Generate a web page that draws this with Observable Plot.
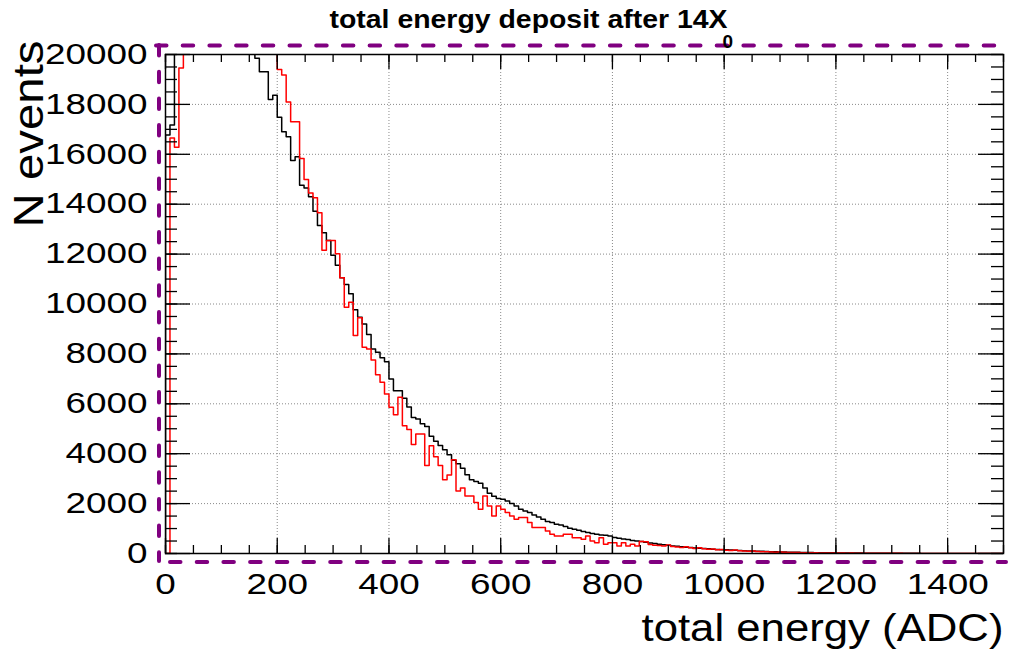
<!DOCTYPE html>
<html><head><meta charset="utf-8">
<script src="https://cdn.jsdelivr.net/npm/d3@7"></script>
<script src="https://cdn.jsdelivr.net/npm/@observablehq/plot@0.6"></script>
<style>body{margin:0;background:#fff;}</style>
</head><body><div id="chart"></div>
<script>
// Histogram bin width (ADC units); bins start at 0
const binWidth = 8;

// black histogram counts per bin (values above 20000 are off-scale / clipped)
const blackCounts = [
  16770, 17170, 21500, 23000, 24500, 25500, 26000, 26500, 26500, 26000,
  25500, 25000, 24200, 23500, 22800, 22200, 21600, 21000, 20600, 20200,
  19850, 19310, 19310, 18200, 18370, 17480, 16900, 16700, 15750, 15900,
  14760, 14650, 14300, 13715, 13150, 12860, 12550, 11950, 11550, 11050,
  10780, 10410, 9770, 9470, 9200, 8775, 8200, 8065, 7850, 7690,
  6995, 6526, 6526, 6220, 5870, 5455, 5388, 5200, 5094, 4700,
  4500, 4330, 4160, 3960, 3735, 3595, 3415, 3160, 2955, 2890,
  2820, 2630, 2410, 2290, 2200, 2175, 2108, 2000, 1908, 1774,
  1707, 1640, 1546, 1466, 1372, 1279, 1239, 1171, 1145, 1078,
  1011, 971, 931, 877, 837, 797, 771, 744, 730, 703,
  640, 612, 585, 560, 520, 505, 480, 455, 420, 400,
  370, 350, 330, 305, 290, 270, 250, 240, 225, 210,
  200, 190, 175, 165, 155, 150, 140, 130, 120, 115,
  105, 100, 95, 90, 80, 75, 68, 62, 58, 55,
  50, 48, 45, 40, 38, 35, 33, 30, 28, 26,
  24, 22, 20, 19, 18, 17, 15, 14, 13, 12,
  11, 10, 10, 9, 8, 8, 7, 6, 6, 5,
  5, 5, 4, 4, 4, 3, 3, 3, 3, 2,
  2, 2, 2, 2, 1, 1, 1, 1
];

// red histogram counts per bin
const redCounts = [
  0, 16650, 16280, 19460,
  21000, 22500, 23800, 24800, 25500, 26000, 26300, 26400, 26200, 25800,
  25300, 24700, 24000, 23400, 22800, 22200, 21700, 21200, 20800, 20400, 20200,
  19400, 19180, 18100, 17300, 17300,
  15830, 14990, 14450, 14260, 13660, 12150, 12550, 12550, 12015, 11050,
  9870, 10070, 8735, 9445, 8265, 8200, 7759, 7169, 6860, 6392,
  5857, 5560, 6258, 5120, 4970, 4370, 4786, 4786, 3530, 4317,
  3880, 3530, 2960, 3150, 3760, 2510, 2630, 2309, 2309, 2041,
  1774, 2309, 1908, 1506, 1908, 1774, 1640, 1506, 1372, 1439,
  1439, 1239, 1038, 1038, 1038, 904, 771, 703, 703, 771,
  771, 636, 636, 569, 703, 502, 435, 636, 368, 435,
  435, 301, 435, 301, 370, 300, 480, 470, 360, 330,
  320, 300, 340, 280, 260, 240, 270, 230, 200, 230,
  190, 170, 180, 150, 160, 130, 120, 140, 110, 100,
  90, 100, 80, 70, 75, 60, 55, 60, 50, 45,
  40, 45, 35, 30, 32, 28, 25, 22, 20, 22,
  18, 16, 15, 17, 14, 12, 11, 13, 10, 9,
  8, 9, 7, 6, 7, 5, 5, 4, 5, 4,
  3, 3, 4, 3, 2, 2, 3, 2, 2, 1,
  1, 2, 1, 1, 1, 0, 1, 0
];

const xTickLabels = [0, 200, 400, 600, 800, 1000, 1200, 1400];
const yTickLabels = [0, 2000, 4000, 6000, 8000, 10000, 12000, 14000, 16000, 18000, 20000];
const xGrid = [200, 400, 600, 800, 1000, 1200, 1400];
const yGrid = [2000, 4000, 6000, 8000, 10000, 12000, 14000, 16000, 18000];
const xMinor = d3.range(0, 1501, 50);
const yMinor = d3.range(0, 20001, 500);

const titleText = "total energy deposit after 14X";
const titleSub = "0";
const xTitle = "total energy (ADC)";
const yTitle = "N events";

function histRows(counts) {
  const rows = [{x: 0, y: 0}];
  counts.forEach((c, i) => rows.push({x: i * binWidth, y: c}));
  const end = counts.length * binWidth;
  rows.push({x: end, y: counts[counts.length - 1]});
  rows.push({x: end, y: 0});
  return rows;
}
const blackRows = histRows(blackCounts);
const redRows = histRows(redCounts);

const W = 1012, H = 650, mL = 165, mR = 9, mT = 54, mB = 97;
const fw = W - mL - mR, fh = H - mT - mB;
const font = "'Liberation Sans', Arial, Helvetica, sans-serif";
const purple = "#800080";
const dash = {stroke: purple, strokeWidth: 4, strokeDasharray: "10.5,16.2", strokeLinecap: "round"};
const grid = {stroke: "#8a8a8a", strokeWidth: 1, strokeDasharray: "1,2"};
const tick = {stroke: "black", strokeWidth: 1.3};

const svg = Plot.plot({
  width: W, height: H,
  marginLeft: mL, marginRight: mR, marginTop: mT, marginBottom: mB,
  x: {domain: [0, 1500], axis: null},
  y: {domain: [0, 20000], axis: null},
  style: {fontFamily: font, background: "white", color: "black"},
  marks: [
    Plot.ruleX(xGrid, {...grid}),
    Plot.ruleY(yGrid, {...grid}),
    Plot.lineY(blackRows, {x: "x", y: "y", curve: "step-after", stroke: "black", strokeWidth: 1.5, clip: true}),
    Plot.lineY(redRows, {x: "x", y: "y", curve: "step-after", stroke: "#ff0000", strokeWidth: 1.5, clip: true}),
    // inside ticks: bottom, top, left, right
    Plot.ruleX(xMinor, {...tick, insetTop: fh - 8}),
    Plot.ruleX(xTickLabels, {...tick, insetTop: fh - 15}),
    Plot.ruleX(xMinor, {...tick, insetBottom: fh - 8}),
    Plot.ruleX(xTickLabels, {...tick, insetBottom: fh - 15}),
    Plot.ruleY(yMinor, {...tick, insetRight: fw - 12}),
    Plot.ruleY(yTickLabels, {...tick, insetRight: fw - 25}),
    Plot.ruleY(yMinor, {...tick, insetLeft: fw - 12}),
    Plot.ruleY(yTickLabels, {...tick, insetLeft: fw - 25}),
    Plot.frame({stroke: "black", strokeWidth: 1.5}),
    // purple dashed pad border
    Plot.ruleY([20000], {...dash, dy: -9, insetLeft: -9, insetRight: -3}),
    Plot.ruleX([0], {...dash, dx: -6.5, insetTop: -9, insetBottom: -8}),
    Plot.ruleY([0], {...dash, dy: 8.5, insetLeft: 5, insetRight: -3}),
    // tick labels
    Plot.text(yTickLabels, {y: d => d, text: d => String(d), frameAnchor: "left", dx: -18,
      textAnchor: "end", lineAnchor: "middle", fontSize: 29, fill: "black"}),
    Plot.text(xTickLabels, {x: d => d, text: d => String(d), frameAnchor: "bottom", dy: 31,
      textAnchor: "middle", lineAnchor: "middle", fontSize: 29, fill: "black"}),
    // titles
    Plot.text([titleText], {text: d => d, frameAnchor: "top-left", dx: 164, dy: -27,
      textAnchor: "start", lineAnchor: "bottom", fontWeight: "bold", fontSize: 25, fill: "black"}),
    Plot.text([titleSub], {text: d => d, frameAnchor: "top-left", dx: 557, dy: -7,
      textAnchor: "start", lineAnchor: "bottom", fontWeight: "bold", fontSize: 19, fill: "black"}),
    Plot.text([yTitle], {text: d => d, frameAnchor: "top-left", rotate: -90, dx: -123, dy: -14,
      textAnchor: "end", lineAnchor: "bottom", fontSize: 42, fill: "black"}),
    Plot.text([xTitle], {text: d => d, frameAnchor: "bottom-right", dx: 0, dy: 87,
      textAnchor: "end", lineAnchor: "bottom", fontSize: 38, fill: "black"})
  ]
});

document.getElementById("chart").appendChild(svg);

// ROOT-style wide glyphs: stretch text horizontally
d3.select(svg).selectAll("text").each(function () {
  const t = this.textContent;
  const fs = +(this.parentNode.getAttribute("font-size") || 0);
  let L = null;
  if (/^\d+$/.test(t) && fs === 29) L = t.length * 20.5;
  else if (t === titleText) L = 398;
  else if (t === yTitle) L = 187;
  else if (t === xTitle) L = 362;
  if (L) {
    this.setAttribute("textLength", L);
    this.setAttribute("lengthAdjust", "spacingAndGlyphs");
  }
});
</script>
</body></html>
